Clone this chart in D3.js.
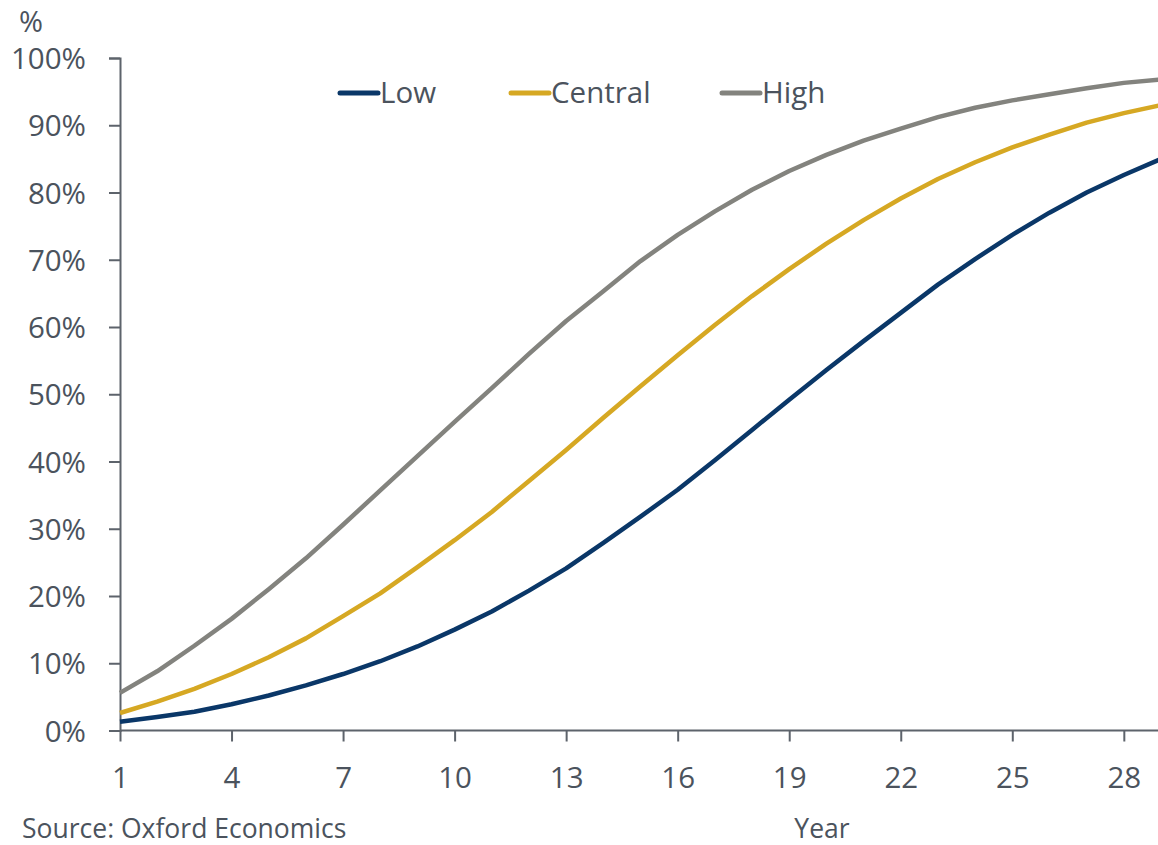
<!DOCTYPE html>
<html>
<head>
<meta charset="utf-8">
<script src="https://d3js.org/d3.v7.min.js"></script>
<style>
  body { margin: 0; background: #fff; }
  svg { display: block; font-family: "Open Sans", "Noto Sans", sans-serif; }
</style>
</head>
<body>
<svg width="1158" height="845"></svg>
<script>
// years on the x axis
var years = d3.range(1, 30);
var tickYears = [1, 4, 7, 10, 13, 16, 19, 22, 25, 28];
var yTicks = [0, 10, 20, 30, 40, 50, 60, 70, 80, 90, 100];

// share (%) for each scenario, years 1..29
var low = [1.3, 2.0, 2.8, 3.9, 5.2, 6.7, 8.4, 10.3, 12.5, 15.0, 17.7, 20.8, 24.1, 27.9, 31.8,
           35.8, 40.2, 44.7, 49.2, 53.6, 57.9, 62.1, 66.3, 70.1, 73.7, 77.0, 80.0, 82.6, 85.0];
var central = [2.6, 4.3, 6.2, 8.4, 10.9, 13.7, 17.0, 20.4, 24.3, 28.3, 32.5, 37.1, 41.7, 46.5, 51.2,
               55.8, 60.3, 64.6, 68.6, 72.4, 75.9, 79.1, 82.0, 84.5, 86.7, 88.6, 90.4, 91.8, 93.0];
var high = [5.6, 8.8, 12.6, 16.6, 21.0, 25.6, 30.6, 35.7, 40.8, 45.9, 50.9, 56.0, 60.9, 65.3, 69.8,
            73.7, 77.2, 80.4, 83.2, 85.6, 87.7, 89.5, 91.2, 92.6, 93.7, 94.6, 95.5, 96.3, 96.8];

var seriesNames = ["Low", "Central", "High"];
var seriesColors = ["#0a3768", "#d6a823", "#83837e"];

var svg = d3.select("svg");
var textColor = "#4b535d";
var axisColor = "#5d636b";

var xScale = d3.scaleLinear().domain([1, 29]).range([120, 1161]);
var yScale = d3.scaleLinear().domain([0, 100]).range([730.5, 58]);

// x axis
var xAxis = d3.axisBottom(xScale).tickValues(tickYears).tickSize(11).tickPadding(26)
  .tickFormat(d3.format("d"));
var gx = svg.append("g").attr("transform", "translate(0,730.5)").call(xAxis);
gx.select(".domain").attr("d", "M120,0H1158");

// y axis
var yAxis = d3.axisLeft(yScale).tickValues(yTicks).tickSize(11).tickPadding(23)
  .tickFormat(function(d) { return d + "%"; });
var gy = svg.append("g").attr("transform", "translate(120,0)").call(yAxis);

[gx, gy].forEach(function(g) {
  g.select(".domain").attr("stroke", axisColor).attr("stroke-width", 2);
  g.selectAll(".tick line").attr("stroke", axisColor).attr("stroke-width", 2);
  g.selectAll(".tick text").attr("fill", textColor).attr("font-size", 29.5)
    .attr("font-family", "Open Sans, Noto Sans, sans-serif");
});
gy.selectAll(".tick text").attr("dy", "0.36em");

// lines
var line = d3.line()
  .x(function(d, i) { return xScale(years[i]); })
  .y(function(d) { return yScale(d); });

var allSeries = [low, central, high];
svg.append("g").selectAll("path").data(allSeries).enter().append("path")
  .attr("d", line)
  .attr("fill", "none")
  .attr("stroke", function(d, i) { return seriesColors[i]; })
  .attr("stroke-width", 4.5)
  .attr("stroke-linejoin", "round");

// legend
var legendX = [340, 511, 722];
var legend = svg.append("g").selectAll("g").data(seriesNames).enter().append("g")
  .attr("transform", function(d, i) { return "translate(" + legendX[i] + ",93)"; });
legend.append("line").attr("x1", 0).attr("x2", 38).attr("y1", 0).attr("y2", 0)
  .attr("stroke", function(d, i) { return seriesColors[i]; })
  .attr("stroke-width", 5).attr("stroke-linecap", "round");
legend.append("text").attr("x", 40).attr("y", 10).text(function(d) { return d; })
  .attr("fill", textColor).attr("font-size", 29.5);

// labels
svg.append("text").attr("x", 19).attr("y", 32).text("%")
  .attr("fill", textColor).attr("font-size", 29);
svg.append("text").attr("x", 22).attr("y", 838).text("Source: Oxford Economics")
  .attr("fill", textColor).attr("font-size", 26.5);
svg.append("text").attr("x", 822).attr("y", 838).attr("text-anchor", "middle").text("Year")
  .attr("fill", textColor).attr("font-size", 26.5);
</script>
</body>
</html>
